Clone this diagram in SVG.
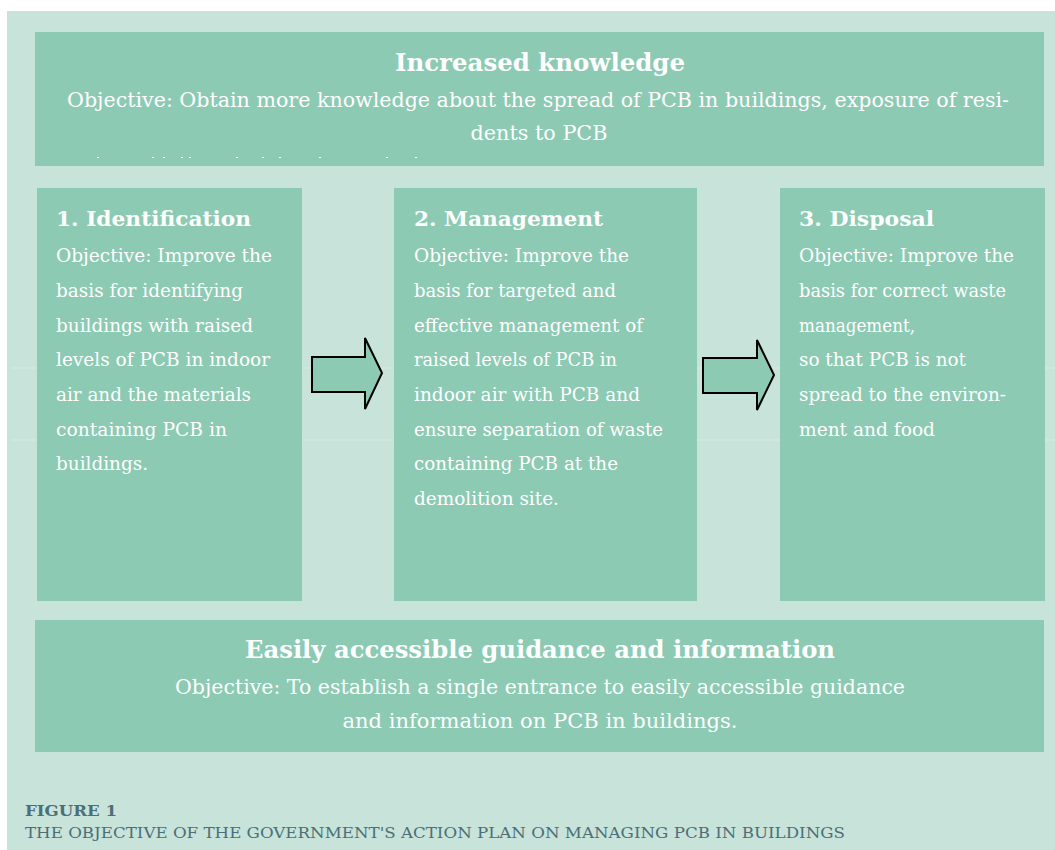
<svg xmlns="http://www.w3.org/2000/svg" width="1055" height="850" viewBox="0 0 1055 850">
<style>
.box{fill:#8ccab3}
.t{font-family:"DejaVu Serif","Liberation Serif",serif;fill:#ffffff}
.h{font-size:24px;font-weight:bold}
.b{font-size:19px}
.bl{font-size:20px}
.hc{font-size:21px;font-weight:bold}
.cap{font-family:"DejaVu Serif","Liberation Serif",serif;fill:#4d6e76;font-size:15px}
.arrow{fill:#8ccab3;stroke:#000;stroke-width:2;stroke-linejoin:miter}
</style>
<rect x="0" y="0" width="1055" height="850" fill="#ffffff"/>
<rect x="7" y="11" width="1048" height="839" fill="#c7e3da"/>
<g stroke="#ffffff" stroke-opacity="0.35" stroke-width="1">
<line x1="12" y1="368" x2="1055" y2="368"/>
<line x1="12" y1="440" x2="1055" y2="440"/>
</g>
<g id="knowledge">
<rect class="box" x="35" y="32" width="1009" height="134"/>
<text class="t h" x="540" y="71" text-anchor="middle" textLength="290" lengthAdjust="spacingAndGlyphs">Increased knowledge</text>
<text class="t bl" x="538" y="107" text-anchor="middle" textLength="942" lengthAdjust="spacingAndGlyphs">Objective: Obtain more knowledge about the spread of PCB in buildings, exposure of resi-</text>
<text class="t bl" x="539" y="140" text-anchor="middle" textLength="137" lengthAdjust="spacingAndGlyphs">dents to PCB</text>
<g fill="#ffffff"><rect x="97" y="157" width="2" height="1"/><rect x="152" y="157" width="2" height="1"/><rect x="163" y="157" width="2" height="1"/><rect x="181" y="157" width="2" height="1"/><rect x="189" y="157" width="2" height="1"/><rect x="236" y="157" width="2" height="1"/><rect x="262" y="157" width="2" height="1"/><rect x="279" y="157" width="2" height="1"/><rect x="319" y="157" width="2" height="1"/><rect x="386" y="157" width="2" height="1"/><rect x="415" y="157" width="2" height="1"/></g>
</g>
<g id="identification">
<rect class="box" x="37" y="188" width="265" height="413"/>
<text class="t hc" x="56" y="226" textLength="195" lengthAdjust="spacingAndGlyphs">1. Identification</text>
<text class="t b" x="56" y="262" textLength="216" lengthAdjust="spacingAndGlyphs">Objective: Improve the</text>
<text class="t b" x="56" y="297" textLength="187" lengthAdjust="spacingAndGlyphs">basis for identifying</text>
<text class="t b" x="56" y="332" textLength="197" lengthAdjust="spacingAndGlyphs">buildings with raised</text>
<text class="t b" x="56" y="366" textLength="214" lengthAdjust="spacingAndGlyphs">levels of PCB in indoor</text>
<text class="t b" x="56" y="401" textLength="195" lengthAdjust="spacingAndGlyphs">air and the materials</text>
<text class="t b" x="56" y="436" textLength="171" lengthAdjust="spacingAndGlyphs">containing PCB in</text>
<text class="t b" x="56" y="470" textLength="92" lengthAdjust="spacingAndGlyphs">buildings.</text>
</g>
<g id="management">
<rect class="box" x="394" y="188" width="303" height="413"/>
<text class="t hc" x="414" y="226" textLength="189" lengthAdjust="spacingAndGlyphs">2. Management</text>
<text class="t b" x="414" y="262" textLength="215" lengthAdjust="spacingAndGlyphs">Objective: Improve the</text>
<text class="t b" x="414" y="297" textLength="202" lengthAdjust="spacingAndGlyphs">basis for targeted and</text>
<text class="t b" x="414" y="332" textLength="229" lengthAdjust="spacingAndGlyphs">effective management of</text>
<text class="t b" x="414" y="366" textLength="203" lengthAdjust="spacingAndGlyphs">raised levels of PCB in</text>
<text class="t b" x="414" y="401" textLength="226" lengthAdjust="spacingAndGlyphs">indoor air with PCB and</text>
<text class="t b" x="414" y="436" textLength="249" lengthAdjust="spacingAndGlyphs">ensure separation of waste</text>
<text class="t b" x="414" y="470" textLength="204" lengthAdjust="spacingAndGlyphs">containing PCB at the</text>
<text class="t b" x="414" y="505" textLength="145" lengthAdjust="spacingAndGlyphs">demolition site.</text>
</g>
<g id="disposal">
<rect class="box" x="780" y="188" width="265" height="413"/>
<text class="t hc" x="799" y="226" textLength="135" lengthAdjust="spacingAndGlyphs">3. Disposal</text>
<text class="t b" x="799" y="262" textLength="215" lengthAdjust="spacingAndGlyphs">Objective: Improve the</text>
<text class="t b" x="799" y="297" textLength="207" lengthAdjust="spacingAndGlyphs">basis for correct waste</text>
<text class="t b" x="799" y="332" textLength="116" lengthAdjust="spacingAndGlyphs">management,</text>
<text class="t b" x="799" y="366" textLength="167" lengthAdjust="spacingAndGlyphs">so that PCB is not</text>
<text class="t b" x="799" y="401" textLength="207" lengthAdjust="spacingAndGlyphs">spread to the environ-</text>
<text class="t b" x="799" y="436" textLength="136" lengthAdjust="spacingAndGlyphs">ment and food</text>
</g>
<g id="guidance">
<rect class="box" x="35" y="620" width="1009" height="132"/>
<text class="t h" x="540" y="658" text-anchor="middle" textLength="590" lengthAdjust="spacingAndGlyphs">Easily accessible guidance and information</text>
<text class="t bl" x="540" y="694" text-anchor="middle" textLength="730" lengthAdjust="spacingAndGlyphs">Objective: To establish a single entrance to easily accessible guidance</text>
<text class="t bl" x="540" y="728" text-anchor="middle" textLength="395" lengthAdjust="spacingAndGlyphs">and information on PCB in buildings.</text>
</g>
<g id="connectors">
<polygon class="arrow" points="312,357 365,357 365,338 382,373 365,409 365,392 312,392"/>
<polygon class="arrow" points="703,358 757,358 757,340 774,375 757,410 757,393 703,393"/>
</g>
<g id="caption">
<text class="cap" x="25" y="816" font-weight="bold" textLength="92" lengthAdjust="spacingAndGlyphs">FIGURE 1</text>
<text class="cap" x="25" y="838" textLength="820" lengthAdjust="spacingAndGlyphs">THE OBJECTIVE OF THE GOVERNMENT'S ACTION PLAN ON MANAGING PCB IN BUILDINGS</text>
</g>
</svg>
